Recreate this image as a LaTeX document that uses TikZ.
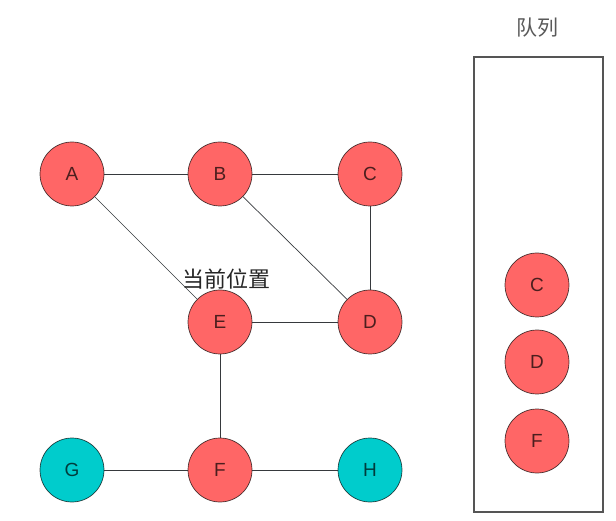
\documentclass[tikz,border=0pt]{standalone}
\usepackage{fontspec}
\setmainfont{Liberation Sans}
\newfontfamily\cjk{Noto Sans CJK SC}
\usepackage{tikz}
\definecolor{rouge}{HTML}{FF6666}
\definecolor{cyan2}{HTML}{00CCCC}
\definecolor{trait}{HTML}{36393D}
\definecolor{gris}{HTML}{555555}
\usetikzlibrary{positioning}
\tikzset{vertex/.style={
    circle,
    minimum size=64pt,
    inner sep=0,
    draw=black,
    draw opacity=0.7,
    text opacity=0.7,
    line width=0.7pt,
    font=\fontsize{19pt}{19pt}\selectfont}}
\tikzset{edge/.style={
    draw=trait,
    line width=0.7pt}}

\begin{document}
\begin{tikzpicture}[x=1pt, y=-1pt]
  \useasboundingbox (0,0) rectangle (616,521);

\node[vertex, fill=rouge] (A) at (72,174) {A};
\node[vertex, fill=rouge] (B) at (220,174) {B};
\node[vertex, fill=rouge] (C) at (370,174) {C};
\node[vertex, fill=rouge] (E) at (220,322) {E};
\node[vertex, fill=rouge] (D) at (370,322) {D};
\node[vertex, fill=cyan2] (G) at (72,470) {G};
\node[vertex, fill=rouge] (F) at (220,470) {F};
\node[vertex, fill=cyan2] (H) at (370,470) {H};

  \draw[edge] (A) -- (B);
  \draw[edge] (B) -- (C);
  \draw[edge] (C) -- (D);
  \draw[edge] (A) -- (E);
  \draw[edge] (B) -- (D);
  \draw[edge] (E) -- (D);
  \draw[edge] (E) -- (F);
  \draw[edge] (G) -- (F);
  \draw[edge] (F) -- (H);

  \node[font=\cjk\fontsize{22pt}{22pt}\selectfont,
    text=black!85] (pos) at (226,279) {当前位置};

  % queue
  \node[draw=gris,
    line width=1.2pt,
    minimum width=129pt,
    minimum height=455pt,
    inner sep=0] (queue) at (538.5,284.5) {};
  \node[font=\cjk\fontsize{21pt}{21pt}\selectfont,
    text=black!65] (qlabel) at (537,28) {队列};

\node[vertex, fill=rouge] (qC) at (537,285) {C};
\node[vertex, fill=rouge] (qD) at (537,362) {D};
\node[vertex, fill=rouge] (qF) at (537,441) {F};
\end{tikzpicture}
\end{document}
